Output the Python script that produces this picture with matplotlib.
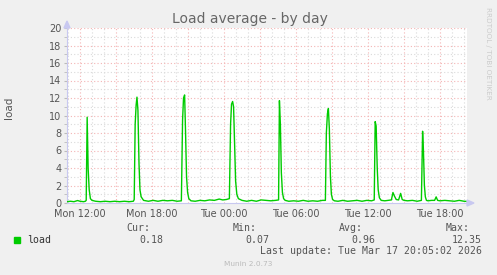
import matplotlib
matplotlib.use("Agg")
import matplotlib.pyplot as plt
from matplotlib.ticker import MultipleLocator

# --- data: hours since Mon 00:00, load average ---
hours = [
    10.92, 11.2, 11.5, 11.8, 12.0, 12.3, 12.45,
    12.52, 12.6, 12.68, 12.77, 12.87, 13.0, 13.3, 13.7, 14.1, 14.5, 14.9, 15.3, 15.7, 16.1, 16.45,
    16.52, 16.6, 16.68, 16.75, 16.83, 16.92, 17.0, 17.1, 17.3, 17.7, 18.1, 18.5, 18.9, 19.3, 19.7, 20.1, 20.45,
    20.55, 20.63, 20.72, 20.8, 20.88, 20.97, 21.07, 21.25, 21.6, 22.0, 22.4, 22.8, 23.2, 23.6, 23.9, 24.2, 24.45,
    24.55, 24.63, 24.72, 24.8, 24.88, 24.97, 25.07, 25.2, 25.5, 25.9, 26.3, 26.7, 27.1, 27.5, 27.9, 28.3, 28.55,
    28.62, 28.7, 28.78, 28.87, 28.97, 29.1, 29.4, 29.8, 30.2, 30.6, 31.0, 31.4, 31.8, 32.2, 32.45,
    32.53, 32.62, 32.7, 32.78, 32.87, 32.95, 33.05, 33.2, 33.5, 33.9, 34.3, 34.7, 35.1, 35.5, 35.9, 36.3, 36.52,
    36.6, 36.68, 36.77, 36.85, 36.95, 37.1, 37.4, 37.7, 37.95, 38.08, 38.2, 38.35, 38.55, 38.72, 38.85, 39.0,
    39.3, 39.7, 40.1, 40.45, 40.55, 40.62, 40.7, 40.78, 40.87, 41.0, 41.3, 41.55, 41.68, 41.8, 42.0, 42.4,
    42.8, 43.2, 43.6, 44.0, 44.25,
]
load = [
    0.15, 0.2, 0.15, 0.28, 0.2, 0.15, 0.2,
    0.3, 9.8, 4.0, 1.5, 0.5, 0.3, 0.2, 0.15, 0.2, 0.15, 0.2, 0.15, 0.2, 0.15, 0.2,
    0.4, 9.0, 11.2, 12.1, 10.6, 4.5, 1.5, 0.7, 0.3, 0.2, 0.3, 0.2, 0.3, 0.25, 0.3, 0.2, 0.25,
    9.5, 12.0, 12.35, 8.0, 3.0, 1.2, 0.5, 0.25, 0.2, 0.3, 0.25, 0.35, 0.3, 0.45, 0.35, 0.4, 0.5,
    9.0, 11.3, 11.6, 11.0, 7.0, 2.5, 1.0, 0.5, 0.3, 0.2, 0.3, 0.2, 0.35, 0.3, 0.25, 0.3, 0.35,
    11.7, 9.0, 3.5, 1.2, 0.5, 0.3, 0.2, 0.25, 0.2, 0.3, 0.2, 0.25, 0.2, 0.3, 0.3,
    8.0, 10.2, 10.8, 8.5, 3.0, 1.0, 0.4, 0.25, 0.2, 0.3, 0.2, 0.25, 0.3, 0.2, 0.3, 0.25, 0.35,
    9.3, 8.8, 4.0, 1.5, 0.6, 0.3, 0.25, 0.3, 0.35, 1.2, 0.8, 0.4, 0.35, 1.1, 0.4, 0.3,
    0.25, 0.3, 0.2, 0.3, 8.2, 6.0, 2.0, 0.7, 0.3, 0.25, 0.3, 0.3, 0.7, 0.3, 0.25, 0.3,
    0.25, 0.2, 0.3, 0.2, 0.18,
]
tick_hours = [12, 18, 24, 30, 36, 42]
tick_labels = ["Mon 12:00", "Mon 18:00", "Tue 00:00", "Tue 06:00", "Tue 12:00", "Tue 18:00"]
stats = [("Cur:", "0.18"), ("Min:", "0.07"), ("Avg:", "0.96"), ("Max:", "12.35")]

W, H = 497, 275
fig = plt.figure(figsize=(W / 100, H / 100), dpi=100)
fig.patch.set_facecolor("#F0F0F0")

ax = fig.add_axes([67 / W, 1 - 203 / H, 400 / W, 175 / H])
ax.set_facecolor("white")
ax.plot(hours, load, color="#00CC00", lw=1.0, zorder=3)

ax.set_xlim(10.92, 44.25)
ax.set_ylim(0, 20)
ax.set_xticks(tick_hours)
ax.set_xticklabels(tick_labels)
ax.yaxis.set_major_locator(MultipleLocator(2))
ax.yaxis.set_minor_locator(MultipleLocator(1))

# grid drawn by hand: pink major, grey minor, dotted
dots = (0, (1, 2))
major_c = "#F4B4B4"
minor_c = "#DADADA"
for h in range(11, 45):
    ax.axvline(h, color=major_c if h % 3 == 0 else minor_c, ls=dots, lw=0.8, zorder=1)
for v in range(1, 21):
    ax.axhline(v, color=major_c if v % 2 == 0 else minor_c, ls=dots, lw=0.8, zorder=1)

for s in ["top", "right"]:
    ax.spines[s].set_visible(False)
ax.spines["left"].set_color("#C8C8F0")
ax.spines["bottom"].set_color("#C8C8F0")
ax.tick_params(which="both", length=2, color="#BBBBBB", labelsize=7, labelcolor="#555555", pad=2)
ax.tick_params(axis="x", which="both", length=0, pad=4)

# axis arrows
fig.patches.append(plt.Polygon([[64 / W, 1 - 28 / H], [70 / W, 1 - 28 / H], [67 / W, 1 - 21 / H]],
                               closed=True, transform=fig.transFigure, color="#C8C8F0"))
fig.patches.append(plt.Polygon([[467 / W, 1 - 200 / H], [467 / W, 1 - 206 / H], [474 / W, 1 - 203 / H]],
                               closed=True, transform=fig.transFigure, color="#C8C8F0"))

fig.text(250 / W, 1 - 19 / H, "Load average - by day", ha="center", va="center",
         fontsize=10, color="#666666")
fig.text(9 / W, 1 - 108 / H, "load", rotation=90, ha="center", va="center",
         fontsize=7.5, color="#555555")
fig.text(488 / W, 1 - 53 / H, "RRDTOOL / TOBI OETIKER", rotation=270, ha="center", va="center",
         fontsize=5.2, color="#CCCCCC")

mono = "DejaVu Sans Mono"
fig.patches.append(plt.Rectangle((14 / W, 1 - 243 / H), 6 / W, 6 / H,
                                 transform=fig.transFigure, color="#00CC00"))
fig.text(27 / W, 1 - 240 / H, "load", ha="left", va="center", family=mono, fontsize=7.1, color="#333333")
head_x = [150, 257, 363, 470]
val_x = [163, 269, 375, 482]
for (lab, val), hx, vx in zip(stats, head_x, val_x):
    fig.text(hx / W, 1 - 228 / H, lab, ha="right", va="center", family=mono, fontsize=7.1, color="#555555")
    fig.text(vx / W, 1 - 240 / H, val, ha="right", va="center", family=mono, fontsize=7.1, color="#555555")
fig.text(482 / W, 1 - 251 / H, "Last update: Tue Mar 17 20:05:02 2026", ha="right", va="center",
         family=mono, fontsize=7.1, color="#555555")
fig.text(248 / W, 1 - 264 / H, "Munin 2.0.73", ha="center", va="center", fontsize=5.3, color="#BBBBBB")

fig.savefig("out.png", dpi=100, facecolor=fig.get_facecolor())
